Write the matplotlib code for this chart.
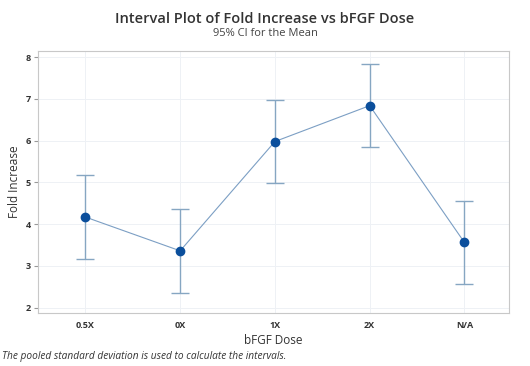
import matplotlib
matplotlib.use("Agg")
import matplotlib.pyplot as plt

# bFGF dose groups, means and 95% CI (pooled SD)
doses = ["0.5X", "0X", "1X", "2X", "N/A"]
means = [4.17, 3.36, 5.98, 6.84, 3.56]
ci_low = [3.17, 2.36, 4.98, 5.84, 2.56]
ci_high = [5.17, 4.36, 6.98, 7.84, 4.56]

plt.rcParams["font.family"] = ["Open Sans", "DejaVu Sans"]

fig = plt.figure(figsize=(5.3, 3.66), dpi=100)
ax = fig.add_axes([38 / 530, 1 - 313 / 366, (509 - 38) / 530, (313 - 51) / 366])

x = list(range(len(doses)))
err_lo = [m - lo for m, lo in zip(means, ci_low)]
err_hi = [hi - m for m, hi in zip(means, ci_high)]

ax.errorbar(x, means, yerr=[err_lo, err_hi], fmt="none", ecolor="#86a6c2",
            elinewidth=1.0, capsize=6.5, capthick=1.0, zorder=2)
ax.plot(x, means, color="#7c9fc4", linewidth=0.8, zorder=3)
ax.plot(x, means, "o", color="#0b4f9c", markersize=6, zorder=4)

ax.set_xlim(-0.5, 4.47)
ax.set_ylim(1.87, 8.15)
ax.set_xticks(x)
ax.set_xticklabels(doses)
ax.set_yticks(range(2, 9))
ax.grid(True, color="#eef1f5", linewidth=0.7)
ax.set_axisbelow(True)
for s in ax.spines.values():
    s.set_color("#c8c8c8")
    s.set_linewidth(0.8)
ax.tick_params(axis="y", length=3, color="#999999", labelsize=6.5,
               labelcolor="#333333", pad=2)
ax.tick_params(axis="x", length=0, labelsize=6.5, labelcolor="#333333", pad=6)
for lab in ax.get_xticklabels() + ax.get_yticklabels():
    lab.set_fontweight("bold")

ax.set_xlabel("bFGF Dose", fontsize=8.5, color="#333333", labelpad=3)
ax.set_ylabel("Fold Increase", fontsize=8.5, color="#333333")
ax.yaxis.set_label_coords(-17 / 471, 0.5)

fig.text(0.5, 1 - 19 / 366, "Interval Plot of Fold Increase vs bFGF Dose",
         ha="center", va="center", fontsize=10.5, color="#333333",
         fontweight="semibold")
fig.text(0.5, 1 - 33 / 366, "95% CI for the Mean", ha="center", va="center",
         fontsize=8, color="#444444")
fig.text(2 / 530, 1 - 357 / 366,
         "The pooled standard deviation is used to calculate the intervals.",
         ha="left", va="center", fontsize=7.3, style="italic", color="#333333")

fig.savefig("out.png", dpi=100)
